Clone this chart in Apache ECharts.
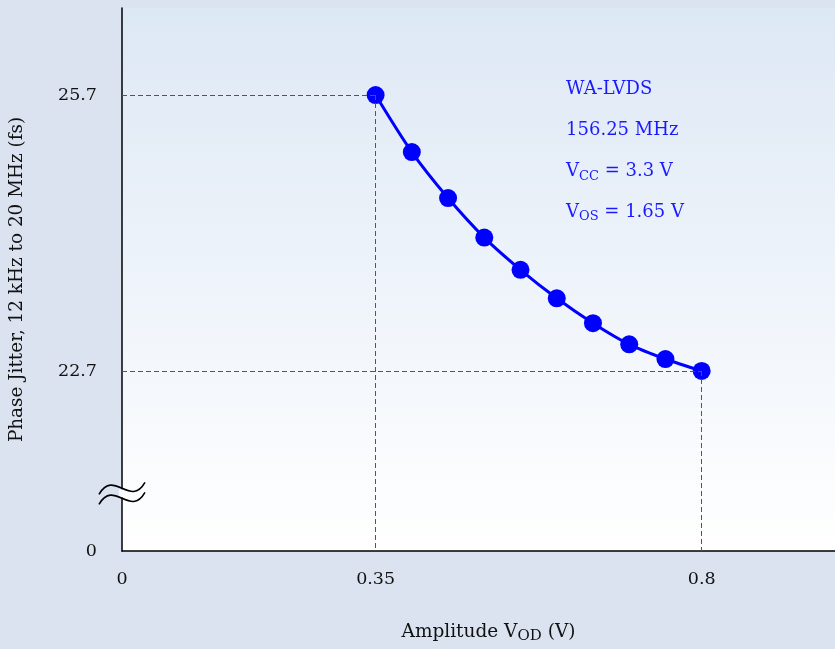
<!DOCTYPE html>
<html><head><meta charset="utf-8">
<script src="https://cdn.jsdelivr.net/npm/echarts@6/dist/echarts.min.js"></script>
<style>html,body{margin:0;padding:0;background:#dae3ef;}#c{width:835px;height:649px;}</style>
</head><body><div id="c"></div>
<script>
const amplitude = [0.35, 0.40, 0.45, 0.50, 0.55, 0.60, 0.65, 0.70, 0.75, 0.80];
const jitter = [25.7, 25.08, 24.58, 24.15, 23.80, 23.49, 23.22, 22.99, 22.83, 22.7];
const yTicks = [22.7, 25.7];
const xTicks = [0, 0.35, 0.8];
const annotation = ['WA-LVDS', '156.25 MHz', 'V{sub|CC} = 3.3 V', 'V{sub|OS} = 1.65 V'];

const Y_MIN = 20.743, Y_MAX = 26.646, X_MAX = 0.984;
const FONT = 'DejaVu Serif';
const chart = echarts.init(document.getElementById('c'));
const pts = amplitude.map((x, i) => [x, jitter[i]]);
const first = pts[0], last = pts[pts.length - 1];
chart.setOption({
  backgroundColor: '#dae3ef',
  animation: false,
  grid: { left: 119, top: 8, right: 0, bottom: 98, show: true, borderWidth: 0,
    backgroundColor: new echarts.graphic.LinearGradient(0, 0, 0, 1, [
      { offset: 0, color: '#dde8f5' }, { offset: 1, color: '#ffffff' }]) },
  xAxis: {
    type: 'value', min: 0, max: X_MAX,
    axisLine: { show: true, onZero: false, lineStyle: { color: '#000', width: 1.5 } },
    axisTick: { show: false }, splitLine: { show: false },
    axisLabel: { customValues: xTicks, margin: 19, color: '#111', fontFamily: FONT, fontSize: 17.5,
      formatter: v => String(v) },
    name: 'Amplitude V{sub|OD} (V)', nameLocation: 'middle', nameGap: 70,
    nameTextStyle: { color: '#111', fontFamily: FONT, fontSize: 18.5, padding: [0, 0, 0, 20],
      rich: { sub: { fontFamily: FONT, fontSize: 15, verticalAlign: 'bottom', padding: [8, 0, 0, 0], color: '#111' } } }
  },
  yAxis: {
    type: 'value', min: Y_MIN, max: Y_MAX,
    axisLine: { show: true, lineStyle: { color: '#000', width: 1.5 } },
    axisTick: { show: false }, splitLine: { show: false },
    axisLabel: { customValues: [Y_MIN].concat(yTicks), margin: 25, color: '#111', fontFamily: FONT, fontSize: 17.5,
      formatter: v => (v === Y_MIN ? '0' : v.toFixed(1)) },
    name: 'Phase Jitter, 12 kHz to 20 MHz (fs)', nameLocation: 'middle', nameGap: 96,
    nameTextStyle: { color: '#111', fontFamily: FONT, fontSize: 18.4 }
  },
  series: [{
    type: 'line', data: pts, smooth: 0.3,
    symbol: 'circle', symbolSize: 18,
    lineStyle: { color: '#0000ff', width: 3 },
    itemStyle: { color: '#0000ff' },
    markLine: {
      silent: true, symbol: 'none', label: { show: false },
      lineStyle: { color: '#555', type: [5, 3], width: 1 },
      data: [
        [{ coord: [0, first[1]] }, { coord: first }],
        [{ coord: first }, { coord: [first[0], Y_MIN] }],
        [{ coord: [0, last[1]] }, { coord: last }],
        [{ coord: last }, { coord: [last[0], Y_MIN] }]
      ]
    },
    z: 3
  }]
});
// annotation + axis break symbol
const anchor = chart.convertToPixel({ gridIndex: 0 }, [0.617, 25.75]);
const brk = chart.convertToPixel({ gridIndex: 0 }, [0, 21.37]);
const wave = (dy) => ({
  type: 'bezierCurve',
  shape: { x1: brk[0] - 23, y1: brk[1] + dy + 6, cpx1: brk[0] - 8, cpy1: brk[1] + dy - 20,
           cpx2: brk[0] + 8, cpy2: brk[1] + dy + 20, x2: brk[0] + 23, y2: brk[1] + dy - 6 },
  style: { stroke: '#000', lineWidth: 1.6, fill: null }, z: 10
});
chart.setOption({
  graphic: [
    { type: 'rect', shape: { x: brk[0] - 3, y: brk[1] - 4, width: 6, height: 8 }, style: { fill: '#fbfcfe' }, z: 9 },
    wave(-5), wave(5),
    { type: 'text', left: anchor[0] - 3, top: anchor[1] - 21, z: 10,
      style: { text: annotation.join('\n'), fill: '#1a1aff', font: '18px "' + FONT + '"', lineHeight: 40.7,
        rich: { sub: { fontFamily: FONT, fontSize: 13, fill: '#1a1aff', padding: [10, 0, 0, 0] } } } }
  ]
});
</script></body></html>
